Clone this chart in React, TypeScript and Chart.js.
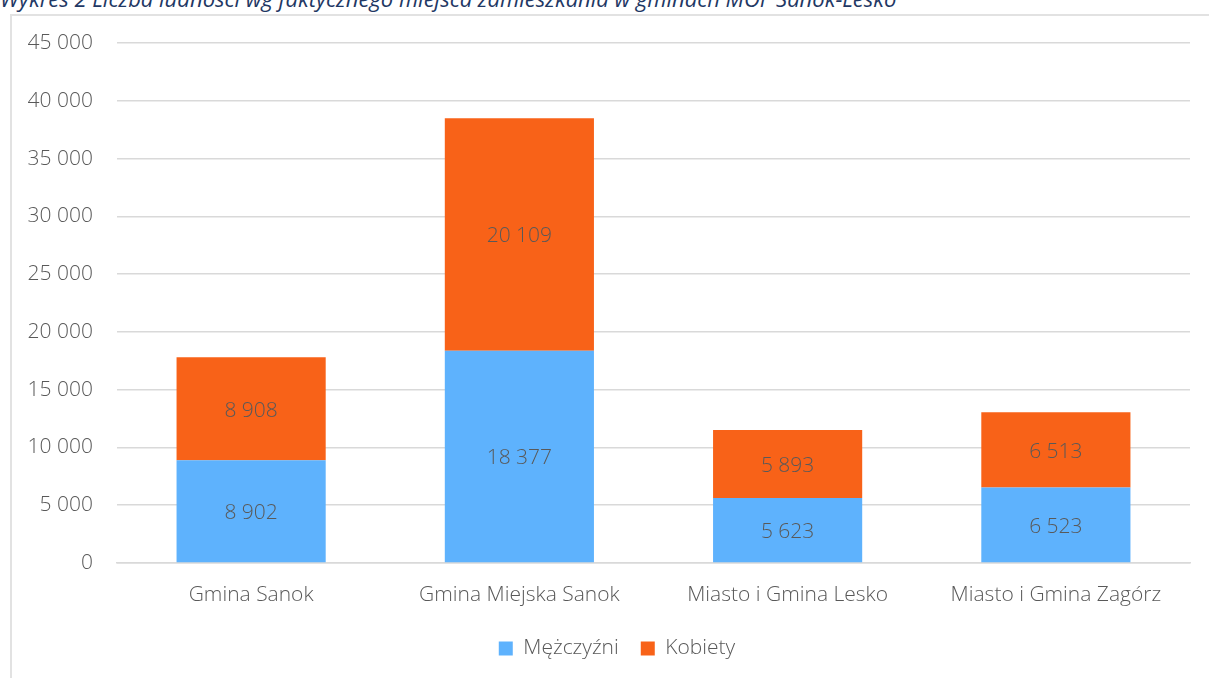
import React, { useEffect, useRef } from "react";
import { Chart, registerables } from "chart.js";

Chart.register(...registerables);

const titleText = "Wykres 2 Liczba ludności wg faktycznego miejsca zamieszkania w gminach MOF Sanok-Lesko";
const categories = ["Gmina Sanok", "Gmina Miejska Sanok", "Miasto i Gmina Lesko", "Miasto i Gmina Zagórz"];
const seriesNames = ["Mężczyźni", "Kobiety"];
const men = [8902, 18377, 5623, 6523];
const women = [8908, 20109, 5893, 6513];
const yMax = 45000;
const yStep = 5000;

const FONT = "'Open Sans', sans-serif";
const TEXT = "#595959";
const GRID = "#d9d9d9";
const W = "300";
const FS = 21;

const fmt = (n: number) => String(n).replace(/\B(?=(\d{3})+(?!\d))/g, " ");

const labelPlugin = {
  id: "barLabels",
  afterLayout(chart: any) {
    if (chart.legend) {
      chart.legend.left += 22;
      chart.legend.right += 22;
    }
  },
  afterDatasetsDraw(chart: any) {
    const ctx = chart.ctx;
    ctx.save();
    ctx.font = `${W} ${FS}px ${FONT}`;
    ctx.fillStyle = TEXT;
    ctx.textAlign = "center";
    ctx.textBaseline = "middle";
    chart.data.datasets.forEach((ds: any, di: number) => {
      const meta = chart.getDatasetMeta(di);
      meta.data.forEach((el: any, i: number) => {
        const y = (el.y + el.base) / 2 + 2;
        ctx.fillText(fmt(ds.data[i]), el.x, y);
      });
    });
    ctx.restore();
  },
};

export default function App() {
  const ref = useRef<HTMLCanvasElement>(null);
  useEffect(() => {
    if (!ref.current) return;
    const chart = new Chart(ref.current, {
      type: "bar",
      data: {
        labels: categories,
        datasets: [
          { label: seriesNames[0], data: men, backgroundColor: "#5eb2fd", barPercentage: 0.556, categoryPercentage: 1 },
          { label: seriesNames[1], data: women, backgroundColor: "#f86218", barPercentage: 0.556, categoryPercentage: 1 },
        ],
      },
      options: {
        responsive: false,
        animation: false,
        devicePixelRatio: 1,
        layout: { padding: { left: 0, right: 19, top: 43, bottom: 9 } },
        plugins: {
          tooltip: { enabled: false },
          legend: {
            position: "bottom",
            labels: {
              boxWidth: 14,
              boxHeight: 14,
              padding: 22,
              color: TEXT,
              font: { family: FONT, size: FS, weight: W },
            },
          },
        },
        scales: {
          x: {
            stacked: true,
            grid: { display: false },
            border: { display: true, color: GRID, width: 1.5 },
            ticks: { color: TEXT, font: { family: FONT, size: FS, weight: W }, padding: 11, maxRotation: 0 },
            afterFit: (s: any) => { s.height = 53; },
          },
          y: {
            stacked: true,
            min: 0,
            max: yMax,
            grid: { color: GRID, lineWidth: 1.5, drawTicks: false },
            border: { display: false },
            ticks: {
              stepSize: yStep,
              color: TEXT,
              padding: 24,
              font: { family: FONT, size: FS, weight: W },
              callback: (v: any) => fmt(Number(v)),
            },
            afterFit: (s: any) => { s.width = 117; },
          },
        },
      },
      plugins: [labelPlugin],
    });
    return () => chart.destroy();
  }, []);
  return (
    <div style={{ position: "absolute", left: 0, top: 0, width: 1209, height: 678, overflow: "hidden", background: "#fff" }}>
      <div style={{ position: "absolute", left: 0, top: -17, whiteSpace: "nowrap", fontFamily: FONT, fontStyle: "italic", fontSize: 22, color: "#1f3864" }}>
        {titleText}
      </div>
      <div style={{ position: "absolute", left: 10, top: 14, width: 1199, height: 2, background: "#e2e2e2" }} />
      <div style={{ position: "absolute", left: 10, top: 14, width: 2, height: 664, background: "#e2e2e2" }} />
      <canvas ref={ref} width={1209} height={678} style={{ position: "absolute", left: 0, top: 0 }} />
    </div>
  );
}
